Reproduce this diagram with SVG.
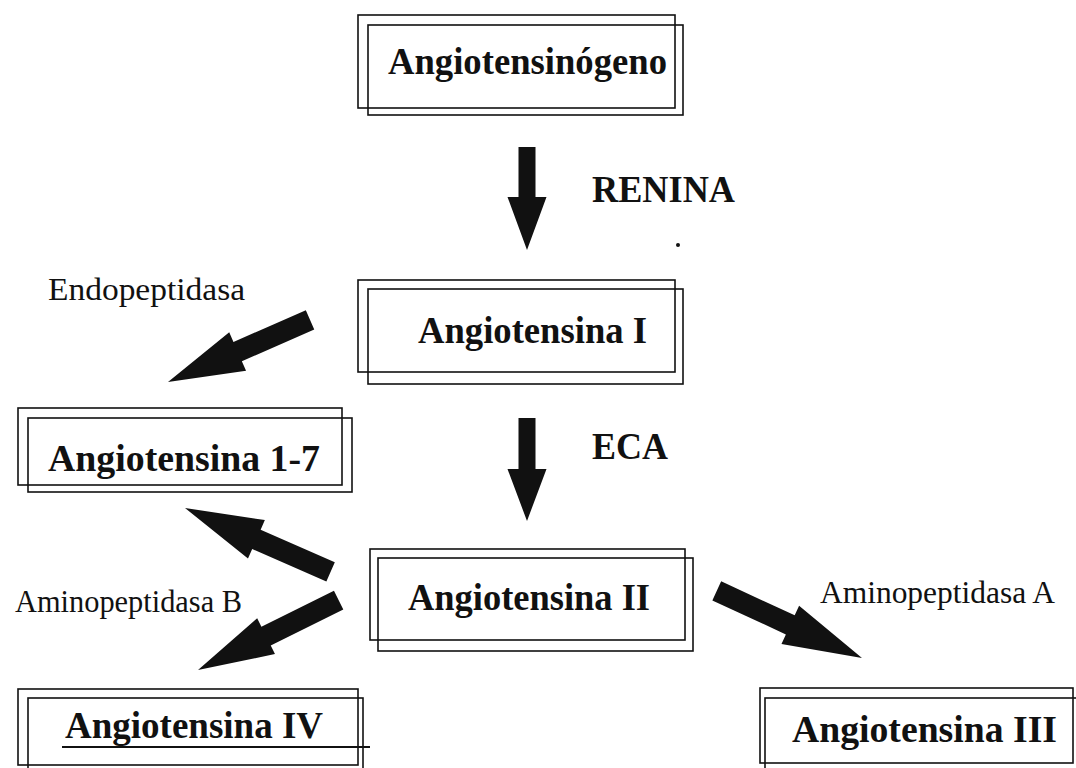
<svg xmlns="http://www.w3.org/2000/svg" width="1076" height="768" viewBox="0 0 1076 768">
<style>
.bx{fill:none;stroke:#111;stroke-width:1.6}
.lb{font-family:"Liberation Serif","Times New Roman",serif;font-weight:bold;font-size:37px;fill:#111}
.en{font-family:"Liberation Serif","Times New Roman",serif;font-size:32px;fill:#111}
.ar{fill:#111}
</style>
<rect width="1076" height="768" fill="#fff"/>
<g id="connectors">
<polygon class="ar" transform="translate(527,250) rotate(90)" points="0,0 -53,-19.5 -53,-8.5 -103,-8.5 -103,8.5 -53,8.5 -53,19.5"/>
<polygon class="ar" transform="translate(527,521) rotate(90)" points="0,0 -52,-19.5 -52,-8.5 -103,-8.5 -103,8.5 -52,8.5 -52,19.5"/>
<polygon class="ar" transform="translate(168,382) rotate(156.4)" points="0,0 -76,-21 -76,-10.5 -155,-10.5 -155,10.5 -76,10.5 -76,21"/>
<polygon class="ar" transform="translate(185,508) rotate(203.7)" points="0,0 -78,-21 -78,-10.5 -159,-10.5 -159,10.5 -78,10.5 -78,21"/>
<polygon class="ar" transform="translate(198,670) rotate(153.6)" points="0,0 -76,-20 -76,-10.5 -157,-10.5 -157,10.5 -76,10.5 -76,20"/>
<polygon class="ar" transform="translate(862,658) rotate(24.8)" points="0,0 -79,-21 -79,-10.5 -160,-10.5 -160,10.5 -79,10.5 -79,21"/>
<text class="lb" x="592" y="202" textLength="143" lengthAdjust="spacingAndGlyphs">RENINA</text>
<text class="lb" x="592" y="459" textLength="76" lengthAdjust="spacingAndGlyphs">ECA</text>
<text class="en" x="48" y="300" textLength="197" lengthAdjust="spacingAndGlyphs">Endopeptidasa</text>
<text class="en" x="15" y="612" textLength="227" lengthAdjust="spacingAndGlyphs">Aminopeptidasa B</text>
<text class="en" x="820" y="603" textLength="235" lengthAdjust="spacingAndGlyphs">Aminopeptidasa A</text>
<circle cx="678" cy="245" r="2" fill="#111"/>
</g>
<g id="angiotensinogeno">
<rect class="bx" x="358" y="15" width="317" height="93"/>
<rect class="bx" x="368" y="25" width="315" height="90"/>
<text class="lb" x="388" y="74" textLength="279" lengthAdjust="spacingAndGlyphs">Angiotensinógeno</text>
</g>
<g id="angiotensina-i">
<rect class="bx" x="358" y="280" width="317" height="92"/>
<rect class="bx" x="368" y="289" width="315" height="95"/>
<text class="lb" x="418" y="343" textLength="229" lengthAdjust="spacingAndGlyphs">Angiotensina I</text>
</g>
<g id="angiotensina-1-7">
<rect class="bx" x="18" y="408" width="324" height="77"/>
<rect class="bx" x="28" y="418" width="324" height="74"/>
<text class="lb" x="48" y="471" textLength="272" lengthAdjust="spacingAndGlyphs">Angiotensina 1-7</text>
</g>
<g id="angiotensina-ii">
<rect class="bx" x="370" y="549" width="315" height="91"/>
<rect class="bx" x="378" y="558" width="315" height="93"/>
<text class="lb" x="408" y="610" textLength="242" lengthAdjust="spacingAndGlyphs">Angiotensina II</text>
</g>
<g id="angiotensina-iv">
<rect class="bx" x="18" y="689" width="340" height="76"/>
<rect class="bx" x="28" y="698" width="335" height="80"/>
<text class="lb" x="65" y="738" textLength="258" lengthAdjust="spacingAndGlyphs">Angiotensina IV</text>
<line x1="62" y1="747" x2="370" y2="747" stroke="#111" stroke-width="2"/>
</g>
<g id="angiotensina-iii">
<rect class="bx" x="760" y="688" width="313" height="75"/>
<rect class="bx" x="765" y="698" width="320" height="80"/>
<text class="lb" x="792" y="742" textLength="265" lengthAdjust="spacingAndGlyphs">Angiotensina III</text>
</g>
</svg>
